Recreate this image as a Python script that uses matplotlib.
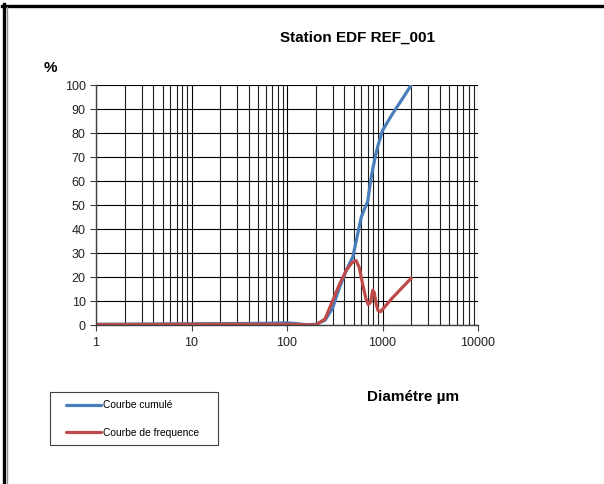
import matplotlib
matplotlib.use("Agg")
import matplotlib.pyplot as plt
from matplotlib.lines import Line2D
from matplotlib.patches import Rectangle
from matplotlib.ticker import LogLocator, FixedLocator, NullFormatter

plt.rcParams['font.family'] = ['Liberation Sans', 'DejaVu Sans']

# Data
cum_x = [1, 3, 10, 30, 60, 100, 125, 160, 200, 250, 300, 350, 420, 490, 550, 600, 650,
         700, 750, 800, 850, 900, 1000, 1250, 1600, 2000]
cum_y = [0.3, 0.4, 0.5, 0.6, 0.7, 0.9, 0.6, 0.1, 0.3, 2.0, 7.0, 15.0, 23.0, 28.5, 38.0,
         45.0, 48.5, 51.5, 60.0, 66.0, 71.0, 75.0, 81.0, 87.5, 94.0, 100.0]

freq_x = [1, 3, 10, 30, 60, 100, 150, 200, 250, 300, 350, 420, 480, 530, 570, 620,
          670, 710, 750, 790, 820, 860, 900, 950, 1000, 1250, 1600, 2000]
freq_y = [0.2, 0.2, 0.3, 0.3, 0.3, 0.3, 0.1, 0.0, 2.5, 10.0, 16.5, 23.0, 26.0, 26.8,
          24.0, 17.0, 11.0, 8.5, 9.5, 14.5, 13.5, 8.5, 6.0, 5.5, 6.5, 11.0, 15.5, 19.5]

y_ticks = [0, 10, 20, 30, 40, 50, 60, 70, 80, 90, 100]
x_ticks = [1, 10, 100, 1000, 10000]
x_ticklabels = ['1', '10', '100', '1000', '10000']

W, H = 604, 484
fig = plt.figure(figsize=(W / 100, H / 100), dpi=100)
fig.patch.set_facecolor('white')

ax = fig.add_axes([96 / W, 1 - 325 / H, 382 / W, 240 / H])
ax.set_xscale('log')
ax.set_xlim(1, 10000)
ax.set_ylim(0, 100)

ax.xaxis.set_major_locator(FixedLocator(x_ticks))
ax.set_xticklabels(x_ticklabels)
ax.xaxis.set_minor_locator(LogLocator(base=10, subs=range(2, 10)))
ax.xaxis.set_minor_formatter(NullFormatter())
ax.set_yticks(y_ticks)

ax.grid(True, which='major', axis='both', color='black', lw=0.8)
ax.grid(True, which='minor', axis='x', color='#202020', lw=0.8)
ax.set_axisbelow(True)

for s in ['top', 'right']:
    ax.spines[s].set_visible(False)
for s in ['left', 'bottom']:
    ax.spines[s].set_color('#404040')
    ax.spines[s].set_linewidth(1.0)

ax.tick_params(axis='both', which='major', labelsize=9, colors='#404040',
               length=4, width=0.8, direction='out', labelcolor='#222222')
ax.tick_params(axis='x', which='minor', length=0)
ax.tick_params(axis='x', which='major', pad=5)

l1, = ax.plot(cum_x, cum_y, color='#4A7EBB', lw=2.3, solid_capstyle='round',
              solid_joinstyle='round', label='Courbe cumulé')
l2, = ax.plot(freq_x, freq_y, color='#BE4B48', lw=2.3, solid_capstyle='round',
              solid_joinstyle='round', label='Courbe de frequence')

fig.text(357 / W, 1 - 38 / H, 'Station EDF REF_001', ha='center', va='center',
         fontsize=11, fontweight='bold')
fig.text(50 / W, 1 - 68 / H, '%', ha='center', va='center',
         fontsize=11, fontweight='bold')
fig.text(413 / W, 1 - 397 / H, 'Diamétre µm', ha='center', va='center',
         fontsize=11, fontweight='bold')

# Legend frame (drawn separately so the padding matches the reference)
fig.add_artist(Rectangle((50 / W, 1 - 445 / H), 168 / W, 53 / H, transform=fig.transFigure,
                         facecolor='white', edgecolor='#404040', lw=0.8, zorder=4))
leg = fig.legend(handles=[l1, l2], loc='upper left',
                 bbox_to_anchor=(66 / W, 1 - 400.5 / H), bbox_transform=fig.transFigure,
                 fontsize=7.4, frameon=False,
                 handlelength=3.4, handletextpad=0.2, labelspacing=1.68,
                 borderpad=0, borderaxespad=0)
leg.set_zorder(5)

# Outer frame lines (top and left)
fig.add_artist(Line2D([2 / W, 1], [1 - 5.5 / H, 1 - 5.5 / H], color='black', lw=2.4,
                      transform=fig.transFigure))
fig.add_artist(Line2D([3.5 / W, 3.5 / W], [0, 1 - 4 / H], color='black', lw=2.4,
                      transform=fig.transFigure))
fig.add_artist(Line2D([6.5 / W, 6.5 / W], [0, 1 - 7 / H], color='#909090', lw=1.0,
                      transform=fig.transFigure))

fig.savefig('out.png', dpi=100, facecolor='white')
